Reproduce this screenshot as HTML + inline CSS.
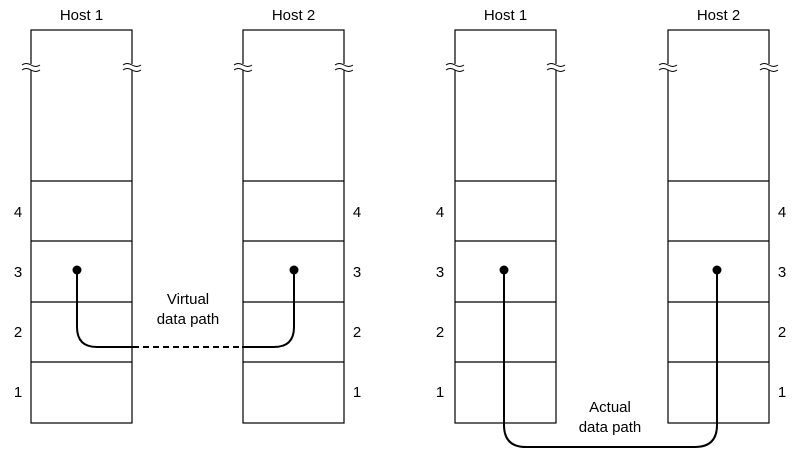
<!DOCTYPE html>
<html><head><meta charset="utf-8"><style>
html,body{margin:0;padding:0;background:#fff;}
svg{display:block;font-family:"Liberation Sans",sans-serif;}
</style></head><body>
<svg id="d" width="808" height="452" viewBox="0 0 808 452"></svg>
<script>
const hostNames = ["Host 1","Host 2","Host 1","Host 2"];
const hostLeft = [31,243,455,668];
const layerLabels = ["4","3","2","1"];
const labelX = [18,357,440,782];
const NS="http://www.w3.org/2000/svg";
const svg=document.getElementById('d');
function el(t,a,p){const e=document.createElementNS(NS,t);for(const k in a)e.setAttribute(k,a[k]);(p||svg).appendChild(e);return e;}
const W=101, boxTop=30, boxBottom=423, lines=[181,241,302,362], mids=[211,271,331,391];
hostNames.forEach((n,i)=>{
  const x=hostLeft[i];
  const g=el('g',{});
  
  
  el('rect',{x:x,y:boxTop,width:W,height:boxBottom-boxTop,fill:'none',stroke:'#000','stroke-width':1.2},g);
  lines.forEach(y=>el('line',{x1:x,x2:x+W,y1:y,y2:y,stroke:'#000','stroke-width':1.2},g));
  [x,x+W].forEach(bx=>{
    el('rect',{x:bx-3,y:64,width:6,height:6,fill:'#fff'},g);
    el('path',{d:`M${bx-9},65 q4,-3 9,0 t9,0 M${bx-9},70 q4,-3 9,0 t9,0`,fill:'none',stroke:'#000','stroke-width':1},g);
  });
  const t=el('text',{x:x+W/2,y:20,'text-anchor':'middle','font-size':15},g);
  t.textContent=n;
  
  
  layerLabels.forEach((l,j)=>{
    const lt=el('text',{x:labelX[i],y:mids[j]+6,'text-anchor':'middle','font-size':15},g);
    lt.textContent=l;
  });
});
const vp=el('path',{d:'M77,270 V327 Q77,347 97,347 H133 M242,347 H274 Q294,347 294,327 V270',fill:'none',stroke:'#000','stroke-width':2});


const vd=el('line',{x1:133,x2:242,y1:347,y2:347,stroke:'#000','stroke-width':2,'stroke-dasharray':'6,4'});


const ap=el('path',{d:'M504,270 V425 Q504,447 526,447 H695 Q717,447 717,425 V270',fill:'none',stroke:'#000','stroke-width':2});


[[77,270],[294,270],[504,270],[717,270]].forEach(p=>{
  const c=el('circle',{cx:p[0],cy:p[1],r:4.5,fill:'#000'});
  
  
});
[["Virtual",188,304],["data path",188,324],["Actual",610,412],["data path",610,432]].forEach(a=>{
  const t=el('text',{x:a[1],y:a[2],'text-anchor':'middle','font-size':15});
  t.textContent=a[0];
  
  
});
</script>
</body></html>
